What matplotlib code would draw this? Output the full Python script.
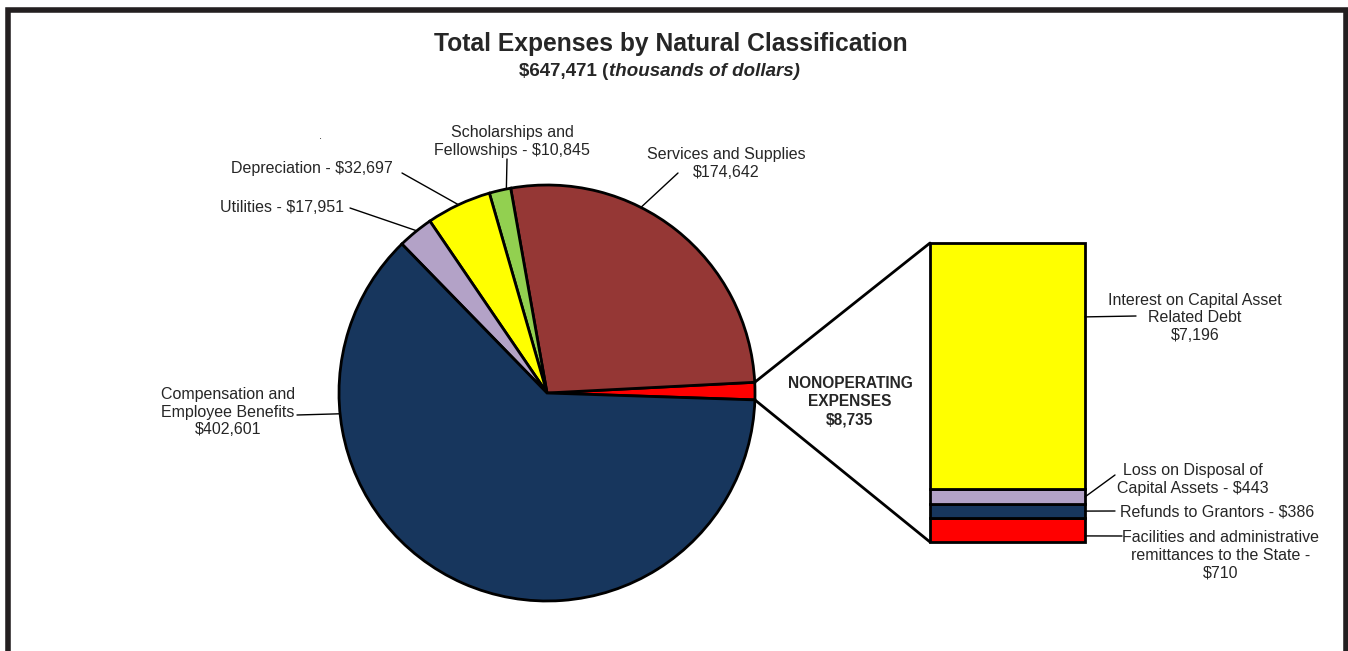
import numpy as np
import matplotlib
matplotlib.use('Agg')
from matplotlib import pyplot as plt
from matplotlib.patches import ConnectionPatch
from matplotlib.lines import Line2D

plt.rcParams['font.family'] = ['Liberation Sans', 'DejaVu Sans']

W, H = 1348, 651
TXT = '#262626'

# operating expenses (thousands of dollars), counter-clockwise from the right
pie_labels = ['Nonoperating Expenses', 'Services and Supplies', 'Scholarships and Fellowships',
              'Depreciation', 'Utilities', 'Compensation and Employee Benefits']
pie_values = [8735, 174642, 10845, 32697, 17951, 402601]
pie_colors = ['#ff0000', '#953735', '#92d050', '#ffff00', '#b3a2c7', '#17365d']

# breakdown of nonoperating expenses, bottom to top
bar_labels = ['Facilities and administrative remittances to the State', 'Refunds to Grantors',
              'Loss on Disposal of Capital Assets', 'Interest on Capital Asset Related Debt']
bar_values = [710, 386, 443, 7196]
bar_colors = ['#ff0000', '#17365d', '#b3a2c7', '#ffff00']

total = sum(pie_values)


def ff(x, y):
    """pixel position (from top-left) -> figure fraction"""
    return x / W, 1 - y / H


fig = plt.figure(figsize=(W / 100, H / 100), dpi=100)

# ---- pie
cx, cy, r_px, pad = 547, 393, 208, 1.05
half = r_px * pad
ax = fig.add_axes([(cx - half) / W, (H - cy - half) / H, 2 * half / W, 2 * half / H])
wedges, _ = ax.pie(pie_values, colors=pie_colors, startangle=-1.9, counterclock=True,
                   wedgeprops=dict(edgecolor='black', linewidth=2.0))
for w in wedges:
    w.set_clip_on(False)
ax.set_xlim(-pad, pad)
ax.set_ylim(-pad, pad)
ax.set_axis_off()

# ---- stacked bar
bx0, bx1, by0, by1 = 930, 1085, 243, 542
bax = fig.add_axes([bx0 / W, (H - by1) / H, (bx1 - bx0) / W, (by1 - by0) / H])
bottoms = np.concatenate([[0], np.cumsum(bar_values)[:-1]])
bars = bax.bar(0.5, bar_values, width=1.0, bottom=bottoms, color=bar_colors,
               edgecolor='black', linewidth=2.0)
for b in bars:
    b.set_clip_on(False)
bax.set_xlim(0, 1)
bax.set_ylim(0, sum(bar_values))
bax.set_axis_off()

# connectors from the nonoperating slice to the bar
red = wedges[0]
for ang, ybar in [(red.theta2, sum(bar_values)), (red.theta1, 0)]:
    a = np.deg2rad(ang)
    con = ConnectionPatch(xyA=(np.cos(a), np.sin(a)), coordsA='data', axesA=ax,
                          xyB=(0, ybar), coordsB='data', axesB=bax,
                          color='black', lw=2.0)
    fig.add_artist(con)


def leader(xyA, axA, end_px):
    con = ConnectionPatch(xyA=xyA, coordsA='data', axesA=axA,
                          xyB=ff(*end_px), coordsB='figure fraction',
                          color='black', lw=1.0)
    fig.add_artist(con)


def label(x, y, s, ha='center', **kw):
    kw.setdefault('fontsize', 11.5)
    fig.text(*ff(x, y), s, ha=ha, va='center', color=TXT, linespacing=1.25,
             multialignment='center', **kw)


# pie labels: (wedge index, position within wedge, line end, text position, text, ha)
pie_notes = [
    (5, 0.23, (297, 415), (228, 412), 'Compensation and\nEmployee Benefits\n$402,601', 'center'),
    (4, 0.45, (350, 208), (344, 207), 'Utilities - $17,951', 'right'),
    (3, 0.50, (402, 173), (393, 169), 'Depreciation - $32,697', 'right'),
    (2, 0.20, (507, 159), (512, 141), 'Scholarships and\nFellowships - $10,845', 'center'),
    (1, 0.62, (678, 173), (726, 163), 'Services and Supplies\n$174,642', 'center'),
]
for i, frac, end, pos, s, ha in pie_notes:
    w = wedges[i]
    a = np.deg2rad(w.theta1 + frac * (w.theta2 - w.theta1))
    leader((np.cos(a), np.sin(a)), ax, end)
    label(*pos, s, ha=ha)

# bar labels: (segment index, position within segment, line end, text position, text, ha)
bar_notes = [
    (3, 0.70, (1136, 316), (1195, 318), 'Interest on Capital Asset\nRelated Debt\n$7,196', 'center'),
    (2, 0.50, (1115, 475), (1193, 480), 'Loss on Disposal of\nCapital Assets - $443', 'center'),
    (1, 0.50, (1115, 511), (1120, 512), 'Refunds to Grantors - $386', 'left'),
    (0, 0.25, (1122, 536), (1221, 555),
     'Facilities and administrative\nremittances to the State -\n$710', 'center'),
]
for i, frac, end, pos, s, ha in bar_notes:
    leader((1, bottoms[i] + frac * bar_values[i]), bax, end)
    label(*pos, s, ha=ha)

label(850, 402, 'NONOPERATING\nEXPENSES\n$8,735', fontsize=11.2, fontweight='bold')
label(321, 136, '.', fontsize=8)

# titles
fig.text(*ff(670.5, 51.5), 'Total Expenses by Natural Classification', ha='center',
         va='baseline', fontsize=17.7, fontweight='bold', color=TXT)
t1 = fig.text(0, 0, '$647,471 (', va='baseline', fontsize=13.5, fontweight='bold', color=TXT)
t2 = fig.text(0, 0, 'thousands of dollars)', va='baseline', fontsize=13.5,
              fontweight='bold', fontstyle='italic', color=TXT)
rend = fig.canvas.get_renderer()
w1 = t1.get_window_extent(rend).width
w2 = t2.get_window_extent(rend).width
x0 = 659.5 - (w1 + w2) / 2
t1.set_position(ff(x0, 75.5))
t2.set_position(ff(x0 + w1, 75.5))

# frame (open at the bottom)
fig.add_artist(Line2D([7.7 / W, 7.7 / W, 1345.5 / W, 1345.5 / W],
                      [-0.05, 1 - 10 / H, 1 - 10 / H, -0.05],
                      transform=fig.transFigure, color='#231f20', lw=4.0,
                      solid_joinstyle='miter'))

fig.savefig('out.png', dpi=100)
